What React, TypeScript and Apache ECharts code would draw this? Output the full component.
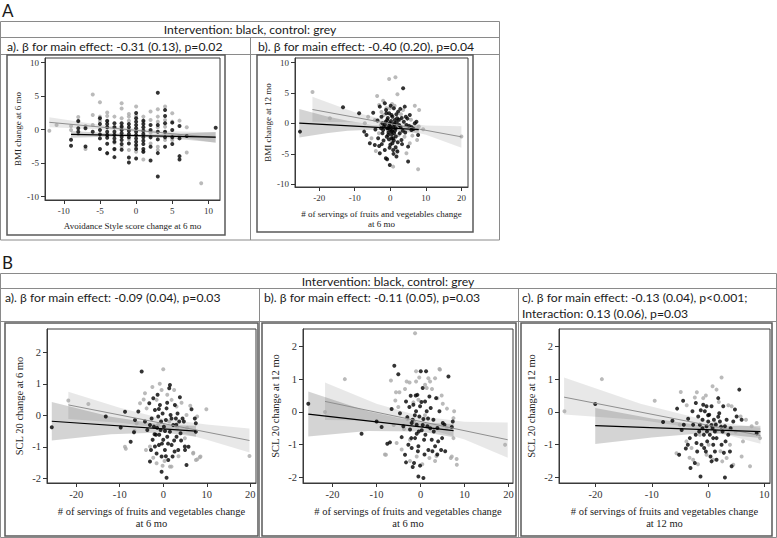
import React, { useEffect, useRef } from "react";
import * as echarts from "echarts";

type P = [number, number];
type B3 = [number, number, number];

// ---------- Tick labels ----------
const avoidTicks = [-10, -5, 0, 5, 10];
const bmiTicks = [-10, -5, 0, 5, 10];
const fvTicks = [-20, -10, 0, 10, 20];
const fvTicks12 = [-20, -10, 0, 10];
const sclTicks = [-2, -1, 0, 1, 2];

// ---------- Texts ----------
const headerText = "Intervention: black, control: grey";
const titlesA = [
  "a). β for main effect: -0.31 (0.13), p=0.02",
  "b). β for main effect: -0.40 (0.20), p=0.04",
];
const titlesB = [
  "a). β for main effect: -0.09 (0.04), p=0.03",
  "b). β for main effect: -0.11 (0.05), p=0.03",
  "c). β for main effect: -0.13 (0.04), p<0.001;",
  "Interaction: 0.13 (0.06), p=0.03",
];
const xNames = [
  "Avoidance Style score change at 6 mo",
  "# of servings of fruits and vegetables change\nat 6 mo",
  "# of servings of fruits and vegetables change\nat 6 mo",
  "# of servings of fruits and vegetables change\nat 6 mo",
  "# of servings of fruits and vegetables change\nat 12 mo",
];
const yNames = [
  "BMI change at 6 mo",
  "BMI change at 12 mo",
  "SCL 20 change at 6 mo",
  "SCL 20 change at 12 mo",
  "SCL 20 change at 12 mo",
];

// ---------- Panel A a) ----------
const aaBlack: P[] = [
  [-9, -1.5], [-9, -2.4],
  [-8, 1.3], [-8, 0.2], [-8, -0.3],
  [-7, 0.2], [-7, -2.5],
  [-6, -0.3],
  [-5, 1.7], [-5, 0.85], [-5, -0.05], [-5, -0.7], [-5, -1.3], [-5, -2.9],
  [-4, 1.3], [-4, 0.85], [-4, 0.35], [-4, -0.3], [-4, -0.8], [-4, -1.2], [-4, -2.1], [-4, -3.5],
  [-3, 0.95], [-3, 0.35], [-3, -0.3], [-3, -0.8], [-3, -1.3], [-3, -1.8], [-3, -2.9], [-3, -4.1],
  [-2, 0.95], [-2, 0.45], [-2, -0.05], [-2, -0.55], [-2, -1.05], [-2, -1.55], [-2, -2.15], [-2, -3.0],
  [-1, 0.85], [-1, 0.35], [-1, -0.15], [-1, -0.65], [-1, -1.15], [-1, -2.05], [-1, -4.15], [-1, -4.9],
  [0, 2.5], [0, 1.7], [0, 1.2], [0, 0.7], [0, 0.2], [0, -0.3], [0, -0.8], [0, -1.3], [0, -1.8], [0, -2.3], [0, -2.9], [0, -4.3],
  [1, 1.35], [1, 0.85], [1, 0.35], [1, -0.15], [1, -0.65], [1, -1.15], [1, -1.65], [1, -2.15], [1, -2.9], [1, -3.3],
  [2, 0.7], [2, -0.05], [2, -1.15], [2, -2.55], [2, -4.6],
  [3, 5.5], [3, 0.7], [3, -0.3], [3, -1.45], [3, -3.5], [3, -7.0],
  [4, 2.95], [4, 2.05], [4, 0.95], [4, -0.3], [4, -1.15], [4, -2.55],
  [5, 1.05], [5, -0.05], [5, -1.15], [5, -2.15],
  [6, 0.55], [6, -1.3], [6, -3.95], [6, -4.45],
  [7, -0.95],
  [11, 0.3],
];
const aaGrey: P[] = [
  [-12, -0.15], [-11, 0.7], [-9, 0.55], [-9, -0.05], [-8, 1.9], [-8, 1.2], [-8, -0.65],
  [-7, 0.55], [-7, -2.9], [-6, 5.25], [-6, 2.2], [-6, 0.7], [-5, 4.1], [-5, 1.95], [-5, 1.3],
  [-4, 2.55], [-4, 2.05], [-4, 1.35], [-4, -3.55], [-3, 1.95], [-3, 0.35], [-3, -1.95], [-3, -2.95],
  [-2, 3.95], [-2, 3.15], [-2, 1.7], [-2, 0.55], [-2, -2.55], [-1, 2.35], [-1, 1.95], [-1, 1.35],
  [-1, -1.45], [-1, -3.05], [0, 3.45], [0, 2.05], [0, -2.55], [0, -3.3], [1, 1.95], [1, 1.2],
  [1, -3.3], [1, -4.45], [2, 2.7], [2, 1.45], [2, -0.45], [2, -2.05], [3, 3.05], [3, 1.95],
  [3, 1.2], [3, 0.35], [3, -2.55], [3, -3.05], [4, 3.45], [4, 1.45], [4, 0.45], [4, -0.45],
  [4, -1.55], [5, 2.45], [5, 1.2], [5, -0.95], [5, -1.55], [6, 1.35], [6, -0.95], [7, 0.35],
  [7, -3.4], [9, -8.0],
];
const aaBlackFit: P[] = [[-9, -0.7], [11, -1.1]];
const aaGreyFit: P[] = [[-12, 1.1], [11, -1.2]];
const aaBlackBand: B3[] = [[-9, -1.2, -0.2], [-4, -1.05, -0.5], [0, -1.05, -0.7], [5, -1.3, -0.65], [11, -1.9, -0.35]];
const aaGreyBand: B3[] = [[-12, 0.35, 1.85], [-6, 0.1, 0.9], [0, -0.35, 0.15], [5, -0.95, -0.25], [11, -2.0, -0.4]];

// ---------- Panel A b) ----------
const abBlack: P[] = [
  [-25.4, -1.34], [-13.3, 2.66], [-8.76, 1.67], [-7.35, -1.34], [-6.7, -1.89], [-5.76, -3.26],
  [-4.82, 1.78], [-4.36, -3.53], [-3.42, -2.44], [-3.14, -3.7], [-2.95, 2.77], [-2.48, 1.12],
  [-2.2, 0.03], [-2.01, -1.07], [-1.55, 3.32], [-1.55, -4.36], [-1.26, -5.73], [-0.89, 0.58],
  [-0.89, -0.79], [-0.61, -1.89], [-0.33, 1.67], [-0.14, 0.03], [0.05, -0.52], [0.33, -1.34],
  [0.33, -2.44], [0.61, -3.26], [0.8, -4.36], [0.98, 2.49], [1.26, 0.58], [1.55, -0.79],
  [1.55, -2.16], [1.73, -5.45], [1.92, 0.85], [2.2, 1.95], [2.48, -0.25], [2.67, -1.62],
  [3.14, -2.71], [3.61, 5.78], [4.07, 2.77], [4.36, 1.12], [4.54, -0.25], [5.01, -3.81],
  [5.01, -6.27], [5.48, 1.4], [5.95, -1.07], [6.89, 0.03], [7.35, 0.3], [7.82, -1.89],
  [-0.14, -6.82], [-0.89, -5.89], [-2.95, -4.9], [-0.61, -0.79], [-1.26, 0.3], [-1.83, -0.52],
  [-2.2, -1.62], [-1.08, 1.67], [0.33, 1.4], [1.08, -1.62], [0.8, -2.44], [-0.14, -0.96],
  [0.5, -1.2], [-0.5, -1.5], [1.0, -2.8], [0.0, -3.5], [-1.0, -2.2], [1.5, -3.9],
  [2.0, -4.6], [-0.3, -0.3], [0.8, -0.6], [3.2, 0.9], [4.8, 0.8], [6.0, -0.6],
  [-1.5, -0.2], [-0.7, 0.9], [0.2, 0.4], [0.6, 1.1], [1.2, -0.2], [1.8, 0.2], [2.4, 0.6],
  [2.9, -0.6], [3.5, -1.2], [3.8, 0.3], [-1.9, -2.8], [-0.4, -2.6], [0.4, -1.8], [1.3, -1.2],
  [2.1, -3.1], [-2.6, -0.8], [-3.6, 0.5], [-1.2, 2.2], [0.1, 2.9], [1.7, 1.5], [2.8, 2.4],
  [4.2, -1.5], [5.3, -0.4], [-0.2, -4.0], [0.9, -5.0], [-2.4, -3.4], [3.3, -3.4], [6.5, -0.9],
  [-4.2, -1.0], [1.0, 0.0],
];
const abGrey: P[] = [
  [-21.87, 5.18], [-17, 0.85], [-3.7, 4.52], [-0.33, 7.32], [1.45, 7.59], [2.01, 4.79],
  [6.89, 2.93], [8.1, 2.22], [9.23, -0.96], [20, -2.16], [7.82, -7.53], [0.8, -7.1],
  [-4.07, -4.52], [-5.29, -2.44], [-2.01, 3.75], [-1.08, 2.49], [-2.67, -0.25], [2.67, 0.58],
  [3.61, 2.22], [4.54, -4.9], [5.48, -3.26], [7.54, -2.71], [-4.36, 0.58], [-6.23, 1.12],
  [-7.17, 0.03], [1.73, -4.36], [-0.14, 2.49], [-3.14, 3.04],
  [-1.8, 1.4], [0.5, 3.2], [1.2, 2.9], [3.0, 1.5], [-0.6, -1.2], [2.3, -1.9], [4.0, -2.2],
  [-3.2, -1.6], [0.3, -2.9], [5.8, 0.6], [8.0, -0.5], [-2.5, 1.9], [1.6, -0.4], [6.2, -2.0],
];
const abBlackFit: P[] = [[-25.6, 0.05], [8, -1.0]];
const abGreyFit: P[] = [[-21.9, 2.3], [20, -2.2]];
const abBlackBand: B3[] = [[-25.6, -2.3, 2.4], [-18, -1.6, 1.2], [-12, -1.2, 0.45], [-5, -1.05, -0.2], [0, -1.1, -0.4], [8, -1.65, -0.35]];
const abGreyBand: B3[] = [[-21.9, 0.3, 4.4], [-10, 0.2, 1.85], [0, -0.5, 0.4], [10, -1.85, -0.35], [20, -4.0, -0.45]];

// ---------- Panel B a) ----------
const baBlack: P[] = [
  [-25.6, -0.38], [-13.2, -0.04], [-9.77, -0.39], [-8.78, 0.11], [-7.48, -0.84], [-6.72, -0.54],
  [-6.49, -0.15], [-5.73, 0.12], [-4.96, 1.39], [-4.2, -0.2], [-3.66, -0.47], [-3.21, 0.38],
  [-3.05, -1.47], [-2.82, -1.1], [-2.67, -0.1], [-2.44, -0.78], [-2.29, 0.54], [-2.14, -0.36],
  [-1.91, 0.17], [-1.68, -0.62], [-1.53, -1.21], [-1.3, 0.65], [-1.15, -0.04], [-0.99, -0.94],
  [-0.76, 0.33], [-0.61, -0.47], [-0.38, -1.31], [-0.15, 0.06], [0, -0.78], [0.15, -0.36],
  [0.38, -1.1], [0.61, -0.15], [0.76, 0.22], [0.92, -0.68], [1.15, -1.42], [1.37, 0.86],
  [1.53, -0.52], [1.68, 0.01], [1.91, -0.94], [2.14, -1.31], [2.29, -0.31], [2.67, 0.33],
  [2.9, -0.1], [3.05, -0.68], [3.28, 0.06], [3.44, -1.1], [3.66, -0.2], [3.82, 0.57],
  [3.97, -0.57], [4.43, -0.1], [4.73, -0.2], [4.96, -0.99], [5.34, -1.58], [6.49, 0.19],
  [7.25, -0.1], [7.48, -0.25], [7.48, -0.52], [-0.38, -1.79], [0.76, -1.98], [1.53, 0.96],
  [-3.05, -0.31], [-0.92, -0.62], [-1.91, -0.99],
  [-0.5, -0.2], [0.4, -0.5], [1.1, -0.9], [2.5, -0.8], [-1.4, -0.4], [0.9, 0.4], [-2.0, -0.6],
  [3.0, -0.3], [1.9, -0.1], [-0.3, -0.9], [0.6, -1.3], [4.1, -0.8], [-1.0, 0.2], [2.6, -1.15],
  [5.8, -1.0], [5.0, -1.1],
];
const baGrey: P[] = [
  [-21.8, 0.47], [-17.2, 0.36], [-8.8, -1.0], [-8.6, -1.06], [9.9, 0.19], [19.8, -1.29],
  [0, 1.46], [8.4, -1.33], [7.5, -1.42], [6.9, -1.19], [1.9, -1.63], [-0.15, -1.6],
  [-4.2, 0.7], [-0.38, 0.8], [0.92, 0.65], [-5.34, 0.38], [-3.82, 0.22], [-1.53, 0.49],
  [1.91, 0.49], [3.05, 0.28], [5.34, 0.01], [7.79, -0.04], [-6.11, -0.25], [-3.97, -1.1],
  [-3.05, -0.99], [-1.53, -1.52], [1.53, -1.63], [6.87, -1.21], [7.79, -1.4], [8.55, -1.31],
  [4.96, -0.73], [3.21, -0.41], [1.37, -0.2],
  [-2.5, 0.9], [-0.8, 1.0], [2.5, 0.8], [4.2, 0.4], [-2.3, -1.35], [0.3, -1.45], [3.5, -1.3],
  [5.5, -0.4], [-4.5, 0.5], [-6.6, -0.5], [6.2, 0.3], [-1.2, -0.3],
];
const baBlackFit: P[] = [[-25.6, -0.19], [7.5, -0.5]];
const baGreyFit: P[] = [[-21.8, 0.33], [19.8, -0.8]];
const baBlackBand: B3[] = [[-25.6, -0.8, 0.42], [-12, -0.6, -0.05], [0, -0.55, -0.3], [7.5, -0.68, -0.33]];
const baGreyBand: B3[] = [[-21.8, -0.12, 0.75], [-10, -0.24, 0.24], [0, -0.41, -0.11], [10, -0.78, -0.29], [19.8, -1.18, -0.42]];

// ---------- Panel B b) ----------
const bbBlack: P[] = [
  [-25.5, 0.25], [-13.4, -0.67], [-9.98, -0.29], [-8.84, -0.46], [-7.55, -0.97], [-6.94, -0.93],
  [-6.57, 0.09], [-5.96, 1.41], [-5.05, 1.15], [-4.67, -0.04], [-4.29, -0.77], [-3.91, -0.44],
  [-3.53, -1.31], [-3.3, 0.32], [-3.0, -0.16], [-2.77, -1.0], [-2.54, 0.15], [-2.39, -0.54],
  [-2.24, 0.49], [-2.01, -1.1], [-1.78, -0.24], [-1.63, 0.22], [-1.48, -1.56], [-1.25, -0.8],
  [-1.02, 0.02], [-0.87, -0.39], [-0.72, 0.52], [-0.49, -1.05], [-0.27, -0.14], [-0.11, 0.17],
  [0.04, 1.24], [0.27, -0.56], [0.49, 0.73], [0.65, -0.22], [0.8, -0.85], [1.02, 0.32],
  [1.25, 1.24], [1.4, 0.02], [1.56, -0.44], [1.78, -1.16], [2.01, 0.47], [2.31, 0.12],
  [2.54, -0.85], [2.92, -0.24], [3.3, -1.05], [3.53, 0.42], [3.83, -0.49], [4.29, 0.02],
  [4.67, -1.16], [5.05, -0.34], [5.43, -0.39], [6.34, 1.08], [7.1, -0.46], [7.32, -0.29],
  [-0.49, -1.97], [0.65, -2.02], [-1.78, -1.68], [-3.3, -1.54], [-0.11, -1.64], [-0.87, -0.67],
  [-2.01, -0.34],
  [-0.4, -0.6], [0.5, -0.4], [1.1, -0.7], [2.2, -0.5], [-1.3, -0.1], [0.2, 0.3], [-2.1, -0.8],
  [3.0, -0.6], [1.7, -0.2], [-0.6, -1.2], [0.9, -1.3], [4.0, -0.9], [-1.1, 0.5], [2.7, -1.2],
  [4.9, -0.8], [5.6, -1.2], [3.8, -1.3],
];
const bbGrey: P[] = [
  [-17.2, 1.0], [-21.7, 0], [19.2, -1.0], [-1.25, 2.4], [-8.1, -1.3], [4.4, 1.29],
  [8.2, -1.44], [7.1, -1.36], [3.3, -1.5], [-6.72, 0.96], [-5.58, 0.6], [-5.73, 0.35],
  [-5.05, 0.15], [-3.53, 0.7], [-3.15, 0.93], [-1.02, 1.24], [-1.02, 0.93], [-0.49, 0.37],
  [1.02, 0.83], [1.78, 1.03], [2.16, 0.93], [3.3, 1.03], [4.29, 1.31], [3.83, 0.42],
  [5.05, 0.25], [7.63, 0.02], [7.48, -0.19], [7.48, -0.8], [6.87, -1.41], [8.24, -1.61],
  [-7.86, -1.31], [-5.43, -0.95], [-4.29, -1.15], [-3.76, -0.52], [-2.39, -0.85], [-0.87, -1.36],
  [2.01, -1.41], [1.4, 0.73], [-1.63, 0.29], [-3.0, -0.22],
  [-2.5, 0.9], [-0.3, 1.05], [2.6, 0.7], [4.8, 0.5], [-2.4, -1.5], [0.4, -1.6], [3.6, -1.35],
  [5.9, -0.5], [-4.8, 0.6], [-6.1, -0.4], [6.0, 0.1], [-1.5, -0.3], [1.0, -0.1],
];
const bbBlackFit: P[] = [[-25.5, -0.07], [7.5, -0.57]];
const bbGreyFit: P[] = [[-21.7, 0.32], [19.8, -0.85]];
const bbBlackBand: B3[] = [[-25.5, -0.75, 0.62], [-12, -0.58, 0.02], [0, -0.6, -0.32], [7.5, -0.77, -0.37]];
const bbGreyBand: B3[] = [[-21.7, -0.25, 0.9], [-10, -0.27, 0.25], [0, -0.45, -0.13], [10, -0.84, -0.3], [19.8, -1.4, -0.32]];

// ---------- Panel B c) ----------
const bcBlack: P[] = [
  [-20.06, 0.24], [-8.0, -0.31], [-6.34, -0.27], [-5.51, 0.1], [-5.15, -1.31], [-4.44, 0.34],
  [-4.32, -0.39], [-3.96, -1.12], [-3.55, -0.21], [-3.25, -0.8], [-3.13, -1.71], [-2.78, 0.02],
  [-2.66, -0.39], [-2.36, -1.56], [-2.18, 0.27], [-2.06, -0.95], [-1.94, -1.21], [-1.76, -0.14],
  [-1.59, -0.6], [-1.47, -0.39], [-1.35, -1.97], [-1.17, -1.0], [-0.99, -0.24], [-0.87, 0.22],
  [-0.75, -0.7], [-0.58, 0.02], [-0.4, -1.21], [-0.28, -0.44], [-0.16, -0.9], [0.02, -0.29],
  [0.2, -0.09], [0.31, -0.7], [0.43, -1.36], [0.61, 0.17], [0.79, -0.49], [0.91, -1.0],
  [1.03, -0.24], [1.21, -1.21], [1.38, -0.39], [1.5, -0.8], [1.8, 0.42], [1.98, -0.04],
  [2.1, -0.29], [2.39, -1.0], [2.57, -0.6], [2.69, 0.17], [2.99, -0.44], [2.99, -2.0],
  [3.29, -0.24], [3.58, -0.7], [3.88, -1.21], [4.18, -1.66], [4.47, -0.29], [4.77, 0.07],
  [5.07, -0.14], [5.54, 0.68], [5.96, -0.24], [8.63, -0.65], [-0.28, 0.17], [0.61, -1.51],
  [1.5, -1.46],
  [-0.2, -0.6], [0.6, -0.4], [1.2, -0.6], [2.3, -0.45], [-1.0, -0.5], [0.0, -0.1], [-2.2, -0.7],
  [3.1, -0.9], [1.8, -0.15], [-0.7, -1.1], [0.9, -0.8], [4.0, -0.5], [-1.3, 0.05], [2.8, -1.25],
  [-3.6, -1.0], [-4.7, -0.55],
];
const bcGrey: P[] = [
  [-25.53, 0.02], [-18.88, 1.0], [-9.49, 0.34], [-4.86, 0.61], [-2.36, 0.44], [0.79, 0.78],
  [2.39, 1.05], [1.5, 0.68], [-5.03, -0.39], [-5.62, -1.26], [-3.85, -0.9], [-2.95, -1.1],
  [0.91, -1.46], [-0.28, -1.31], [-2.66, -1.46], [2.51, -1.51], [3.88, -1.0], [4.47, -1.61],
  [5.96, -1.36], [7.45, -1.66], [5.78, -0.14], [6.73, -0.24], [7.74, -0.44], [8.63, -0.34],
  [9.23, -0.8], [4.18, 0.17], [-0.87, 0.42], [-1.47, -0.7], [1.5, -0.6], [3.29, -1.41],
  [-2.0, 0.6], [-0.4, 0.5], [1.9, 0.3], [3.6, 0.2], [-3.3, -1.4], [-1.8, -1.6], [0.1, -1.0],
  [2.2, -1.2], [6.2, -0.9], [4.9, -0.6], [-3.8, 0.2], [1.3, -0.35],
];
const bcBlackFit: P[] = [[-20.06, -0.42], [9.3, -0.6]];
const bcGreyFit: P[] = [[-25.6, 0.45], [9.3, -0.72]];
const bcBlackBand: B3[] = [[-20.06, -0.98, 0.12], [-10, -0.78, -0.2], [0, -0.64, -0.44], [9.3, -0.8, -0.42]];
const bcGreyBand: B3[] = [[-25.6, -0.08, 1.05], [-12, -0.25, 0.25], [0, -0.55, -0.27], [9.3, -0.97, -0.48]];

// ---------- Layout (positions only) ----------
const SERIF = "'Liberation Serif', 'Times New Roman', serif";
const SANS = "Lato, 'Open Sans', sans-serif";

const panels = [
  { grid: { left: 45, top: 58, width: 175, height: 142 }, x: [-12.6, 11.6], y: [-10.5, 10.7], xt: avoidTicks, yt: bmiTicks, fs: 9, xGap: 21, yGap: 23, lh: 10, black: aaBlack, grey: aaGrey, bFit: aaBlackFit, gFit: aaGreyFit, bBand: aaBlackBand, gBand: aaGreyBand },
  { grid: { left: 295, top: 58, width: 173, height: 129 }, x: [-26.8, 21.85], y: [-10.45, 10.77], xt: fvTicks, yt: bmiTicks, fs: 9, xGap: 22, yGap: 23, lh: 10, black: abBlack, grey: abGrey, bFit: abBlackFit, gFit: abGreyFit, bBand: abBlackBand, gBand: abGreyBand },
  { grid: { left: 47, top: 329, width: 209, height: 154 }, x: [-26.7, 21.3], y: [-2.15, 2.74], xt: fvTicks, yt: sclTicks, fs: 10.5, xGap: 23, yGap: 22.5, lh: 11.5, black: baBlack, grey: baGrey, bFit: baBlackFit, gFit: baGreyFit, bBand: baBlackBand, gBand: baGreyBand },
  { grid: { left: 303, top: 329, width: 210, height: 154 }, x: [-26.7, 21.0], y: [-2.17, 2.53], xt: fvTicks, yt: sclTicks, fs: 10.5, xGap: 23, yGap: 22, lh: 11.5, black: bbBlack, grey: bbGrey, bFit: bbBlackFit, gFit: bbGreyFit, bBand: bbBlackBand, gBand: bbGreyBand },
  { grid: { left: 559, top: 329, width: 211, height: 154 }, x: [-26.5, 11.0], y: [-2.17, 2.53], xt: fvTicks12, yt: sclTicks, fs: 10.5, xGap: 23, yGap: 22, lh: 11.5, black: bcBlack, grey: bcGrey, bFit: bcBlackFit, gFit: bcGreyFit, bBand: bcBlackBand, gBand: bcGreyBand },
];

function bandSeries(band: B3[], idx: number, fill: string) {
  return {
    type: "custom",
    coordinateSystem: "cartesian2d",
    xAxisIndex: idx,
    yAxisIndex: idx,
    silent: true,
    data: band.map((b) => [b[0], b[1], b[2]]),
    renderItem: (params: any, api: any) => {
      if (params.dataIndex !== 0) return null;
      const lower = band.map((b) => api.coord([b[0], b[1]]));
      const upper = band.slice().reverse().map((b) => api.coord([b[0], b[2]]));
      return {
        type: "polygon",
        shape: { points: lower.concat(upper) },
        style: { fill, stroke: "none" },
      };
    },
  };
}

function buildOption() {
  const grids: any[] = [];
  const xAxes: any[] = [];
  const yAxes: any[] = [];
  const series: any[] = [];
  panels.forEach((p, i) => {
    grids.push({
      ...p.grid,
      show: true,
      borderColor: "#3a3a3a",
      borderWidth: 1,
      backgroundColor: "#ffffff",
      containLabel: false,
    });
    const common = {
      type: "value",
      gridIndex: i,
      axisLine: { show: true, onZero: false, lineStyle: { color: "#3a3a3a", width: 1 } },
      splitLine: { show: false },
      nameLocation: "middle",
    };
    xAxes.push({
      ...common,
      position: "bottom",
      min: p.x[0],
      max: p.x[1],
      axisTick: { show: true, length: 4, lineStyle: { color: "#333", width: 1 }, customValues: p.xt },
      axisLabel: { customValues: p.xt, fontFamily: SERIF, fontSize: p.fs, color: "#333", margin: 6 },
      name: xNames[i],
      nameGap: p.xGap,
      nameTextStyle: { fontFamily: SERIF, fontSize: p.fs, color: "#222", lineHeight: p.lh },
    });
    yAxes.push({
      ...common,
      position: "left",
      min: p.y[0],
      max: p.y[1],
      axisTick: { show: true, length: 4, lineStyle: { color: "#333", width: 1 }, customValues: p.yt },
      axisLabel: { customValues: p.yt, fontFamily: SERIF, fontSize: p.fs, color: "#333", margin: 6 },
      name: yNames[i],
      nameGap: p.yGap,
      nameTextStyle: { fontFamily: SERIF, fontSize: p.fs, color: "#222" },
    });
    series.push(bandSeries(p.gBand, i, "rgba(0,0,0,0.09)"));
    series.push(bandSeries(p.bBand, i, "rgba(0,0,0,0.17)"));
    series.push({
      type: "scatter", xAxisIndex: i, yAxisIndex: i, data: p.grey, symbolSize: 4,
      itemStyle: { color: "#a9a9a9" }, silent: true,
    });
    series.push({
      type: "scatter", xAxisIndex: i, yAxisIndex: i, data: p.black, symbolSize: 4,
      itemStyle: { color: "#000000" }, silent: true,
    });
    series.push({
      type: "line", xAxisIndex: i, yAxisIndex: i, data: p.gFit, symbol: "none",
      lineStyle: { color: "#8f8f8f", width: 1 }, silent: true,
    });
    series.push({
      type: "line", xAxisIndex: i, yAxisIndex: i, data: p.bFit, symbol: "none",
      lineStyle: { color: "#000000", width: 1.2 }, silent: true,
    });
  });

  const tableStroke = "#8a8a8a";
  const frameStroke = "#5a5a5a";
  const ln = (x1: number, y1: number, x2: number, y2: number, c = tableStroke, w = 1) => ({
    type: "line", shape: { x1, y1, x2, y2 }, style: { stroke: c, lineWidth: w }, silent: true,
  });
  const rc = (x: number, y: number, width: number, height: number, c: string, w: number) => ({
    type: "rect", shape: { x, y, width, height }, style: { fill: "none", stroke: c, lineWidth: w }, silent: true,
  });
  const tx = (text: string, x: number, y: number, align = "left", size = 12.2, family = SANS) => ({
    type: "text", x, y, silent: true,
    style: { text, fontSize: size, fontFamily: family, fill: "#1a1a1a", textAlign: align, textVerticalAlign: "middle" },
  });

  const graphic: any[] = [
    // Section A
    tx("A", 2, 10, "left", 17),
    rc(0.5, 21.5, 499, 218.5, tableStroke, 1),
    ln(0.5, 37.5, 499.5, 37.5),
    ln(0.5, 54.5, 499.5, 54.5),
    ln(250.5, 37.5, 250.5, 240),
    tx(headerText, 250, 29.5, "center"),
    tx(titlesA[0], 7, 46, "left"),
    tx(titlesA[1], 258, 46, "left"),
    rc(7, 55, 218, 180, frameStroke, 1.5),
    rc(257, 55, 216, 177, frameStroke, 1.5),
    // Section B
    tx("B", 2, 262, "left", 17),
    rc(0.5, 273.5, 776, 264, tableStroke, 1),
    ln(0.5, 288.5, 776.5, 288.5),
    ln(0.5, 321.5, 776.5, 321.5),
    ln(259.5, 288.5, 259.5, 538),
    ln(518.5, 288.5, 518.5, 538),
    tx(headerText, 388, 281, "center"),
    tx(titlesB[0], 5, 297, "left"),
    tx(titlesB[1], 264, 297, "left"),
    tx(titlesB[2], 522, 297, "left"),
    tx(titlesB[3], 522, 313, "left"),
    rc(5, 323, 253, 213, frameStroke, 1.5),
    rc(262, 323, 254, 213, frameStroke, 1.5),
    rc(521, 323, 251, 213, frameStroke, 1.5),
  ];

  return {
    animation: false,
    backgroundColor: "#ffffff",
    grid: grids,
    xAxis: xAxes,
    yAxis: yAxes,
    series,
    graphic: { elements: graphic },
  };
}

export default function App() {
  const ref = useRef<HTMLDivElement>(null);
  useEffect(() => {
    if (!ref.current) return;
    const chart = echarts.init(ref.current, null, { renderer: "svg" });
    chart.setOption(buildOption() as any);
    return () => chart.dispose();
  }, []);
  return (
    <div
      ref={ref}
      style={{ position: "absolute", left: 0, top: 0, width: 777, height: 538, background: "#fff" }}
    />
  );
}
